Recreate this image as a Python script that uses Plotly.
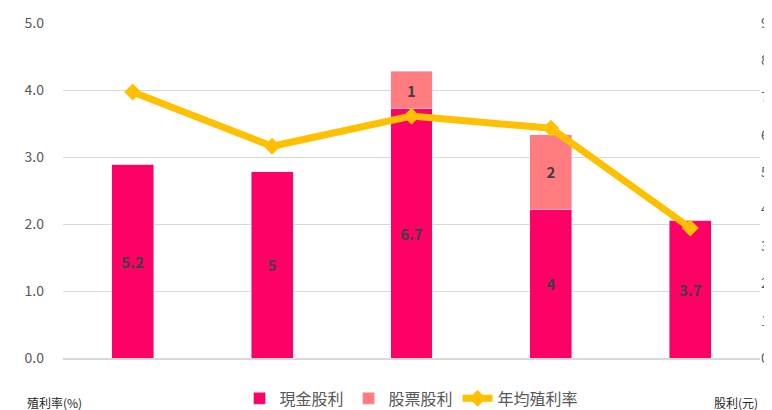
import plotly.graph_objects as go

years = ["1", "2", "3", "4", "5"]
cash_div = [5.2, 5, 6.7, 4, 3.7]
stock_div = [0, 0, 1, 2, 0]
avg_yield = [3.97, 3.16, 3.61, 3.43, 1.94]

label_font = dict(color="#404040", size=15, family="Noto Sans CJK TC")

fig = go.Figure()
fig.add_trace(go.Bar(
    x=years, y=cash_div, name="現金股利", yaxis="y",
    marker_color="#FF0066", text=[f"<b>{v}</b>" for v in cash_div],
    textposition="inside", insidetextanchor="middle", textfont=label_font,
))
fig.add_trace(go.Bar(
    x=years, y=stock_div, name="股票股利", yaxis="y",
    marker_color="#FF7C80", text=[f"<b>{v}</b>" if v else "" for v in stock_div],
    textposition="inside", insidetextanchor="middle", textfont=label_font,
))
fig.add_trace(go.Scatter(
    x=years, y=avg_yield, name="年均殖利率", mode="lines+markers", yaxis="y2",
    line=dict(color="#FFC000", width=7),
    marker=dict(symbol="diamond", size=13, color="#FFC000"),
))

fig.update_layout(
    width=772, height=410, barmode="stack", bargap=0.7,
    plot_bgcolor="white", paper_bgcolor="white",
    margin=dict(l=55, r=20, t=15, b=60, autoexpand=False),
    font=dict(family="Noto Sans CJK TC", color="#595959", size=14),
    xaxis=dict(showticklabels=False, showline=True, linecolor="#D9D9D9", linewidth=2),
    yaxis=dict(range=[0, 9], dtick=1, side="right", showgrid=False,
               zeroline=False, automargin=False),
    yaxis2=dict(range=[0, 5], dtick=1, tickformat=".1f", overlaying="y", side="left",
                showgrid=True, gridcolor="#D9D9D9", zeroline=False, automargin=False,
                ticklabelstandoff=18),
    legend=dict(orientation="h", x=0.5, xanchor="center", y=-0.07, yanchor="top",
                traceorder="normal", font=dict(size=16)),
    annotations=[
        dict(text="殖利率(%)", x=0, xref="paper", xanchor="left", y=-0.1,
             yref="paper", yanchor="top", showarrow=False, font=dict(size=12, color="#262626"),
             xshift=-38),
        dict(text="股利(元)", x=1, xref="paper", xanchor="right", y=-0.1,
             yref="paper", yanchor="top", showarrow=False, font=dict(size=12, color="#262626"),
             xshift=0),
    ],
)
fig.write_html("out.html")
